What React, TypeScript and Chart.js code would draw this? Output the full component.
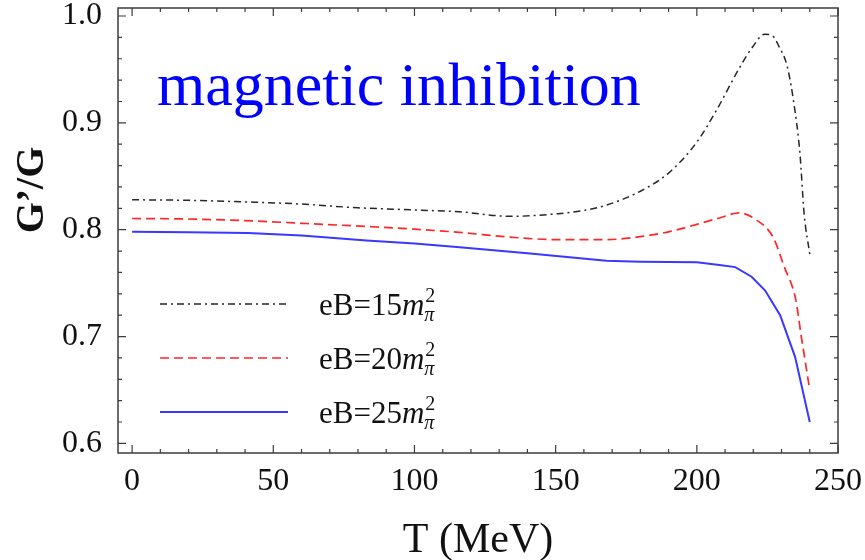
import { useEffect, useRef } from 'react';
import { Chart, registerables } from 'chart.js';

Chart.register(...registerables);

// Temperature grid (MeV) and G'/G for each field strength
const T15 = [0, 20, 40, 60, 80, 100, 116, 134, 151, 160, 168, 180, 190, 200, 207, 215, 220, 224, 227, 229, 232, 234.5, 236.5, 238, 240];
const G15 = [0.828, 0.8275, 0.826, 0.824, 0.8205, 0.8185, 0.8167, 0.8125, 0.815, 0.818, 0.823, 0.836, 0.853, 0.882, 0.912, 0.951, 0.972, 0.983, 0.981, 0.972, 0.953, 0.916, 0.872, 0.815, 0.777];

const T20 = [0, 20, 40, 60, 83, 100, 116, 134, 151, 168, 177, 190, 200, 208, 215, 220.6, 227, 231, 235, 237, 240];
const G20 = [0.8105, 0.81, 0.8085, 0.806, 0.803, 0.8005, 0.7975, 0.793, 0.7907, 0.7907, 0.7925, 0.798, 0.805, 0.811, 0.8157, 0.81, 0.793, 0.765, 0.735, 0.7, 0.65];

const T25 = [0, 20, 41, 60, 83, 100, 116, 140, 168, 180, 200, 208, 213.6, 219.4, 224.2, 229.5, 234.8, 240];
const G25 = [0.798, 0.7975, 0.797, 0.7945, 0.79, 0.787, 0.7835, 0.778, 0.771, 0.77, 0.7695, 0.767, 0.765, 0.756, 0.743, 0.72, 0.681, 0.62];

const SERIES_FIELDS = ['15', '20', '25'];

const X_TICKS = [0, 50, 100, 150, 200, 250];
const Y_TICKS = [0.6, 0.7, 0.8, 0.9, 1.0];
const X_MINOR_STEP = 10;
const Y_MINOR_STEP = 0.02;

const X_MIN = -5;
const X_MAX = 250;
const Y_MIN = 0.591;
const Y_MAX = 1.0075;

const SERIF = '"Liberation Serif", "Times New Roman", serif';

const toPoints = (xs: number[], ys: number[]) => xs.map((x, i) => ({ x, y: ys[i] }));

const decorations = {
  id: 'decorations',
  afterDraw(chart: any) {
    const { ctx, chartArea, scales } = chart;
    const { left, right, top, bottom } = chartArea;
    const xs = scales.x;
    const ys = scales.y;
    ctx.save();

    // frame
    ctx.strokeStyle = '#3c3c3c';
    ctx.lineWidth = 1.5;
    ctx.strokeRect(left, top, right - left, bottom - top);

    // inward tick marks on all four sides
    ctx.lineWidth = 1.2;
    ctx.beginPath();
    for (let v = 0; v <= X_MAX + 1e-9; v += X_MINOR_STEP) {
      const px = xs.getPixelForValue(v);
      const major = X_TICKS.some((t) => Math.abs(t - v) < 1e-6);
      const len = major ? 8 : 4;
      ctx.moveTo(px, bottom);
      ctx.lineTo(px, bottom - len);
      ctx.moveTo(px, top);
      ctx.lineTo(px, top + len);
    }
    for (let v = 0.6; v <= 1.0 + 1e-9; v += Y_MINOR_STEP) {
      const py = ys.getPixelForValue(v);
      const major = Y_TICKS.some((t) => Math.abs(t - v) < 1e-6);
      const len = major ? 8 : 4;
      ctx.moveTo(left, py);
      ctx.lineTo(left + len, py);
      ctx.moveTo(right, py);
      ctx.lineTo(right - len, py);
    }
    ctx.stroke();

    // annotation
    ctx.fillStyle = '#0000ff';
    ctx.font = `62px ${SERIF}`;
    ctx.textAlign = 'left';
    ctx.textBaseline = 'alphabetic';
    ctx.fillText('magnetic inhibition', 157, 105);

    // legend
    const rows = [304, 358, 412];
    chart.data.datasets.forEach((ds: any, i: number) => {
      const yy = rows[i];
      ctx.save();
      ctx.strokeStyle = ds.borderColor;
      ctx.lineWidth = ds.borderWidth;
      ctx.setLineDash(ds.borderDash || []);
      ctx.beginPath();
      ctx.moveTo(160, yy);
      ctx.lineTo(288, yy);
      ctx.stroke();
      ctx.restore();

      const base = yy + 11;
      ctx.fillStyle = '#111';
      ctx.font = `31px ${SERIF}`;
      const head = `eB=${SERIES_FIELDS[i]}`;
      ctx.fillText(head, 319, base);
      let cx = 319 + ctx.measureText(head).width;
      ctx.font = `italic 31px ${SERIF}`;
      ctx.fillText('m', cx, base);
      cx += ctx.measureText('m').width + 1;
      ctx.font = `20px ${SERIF}`;
      ctx.fillText('2', cx, base - 13);
      ctx.font = `italic 20px ${SERIF}`;
      ctx.fillText('π', cx - 1, base + 6);
    });

    // axis titles
    ctx.fillStyle = '#111';
    ctx.font = `42px ${SERIF}`;
    ctx.textAlign = 'center';
    ctx.fillText('T (MeV)', (left + right) / 2, 552);

    ctx.save();
    ctx.translate(43, 190);
    ctx.rotate(-Math.PI / 2);
    ctx.font = `bold 40px ${SERIF}`;
    ctx.fillText('G’/G', 0, 0);
    ctx.restore();

    ctx.restore();
  },
};

export default function App() {
  const ref = useRef<HTMLCanvasElement | null>(null);

  useEffect(() => {
    if (!ref.current) return;
    const chart = new Chart(ref.current, {
      type: 'line',
      data: {
        datasets: [
          {
            label: 'eB=15',
            data: toPoints(T15, G15),
            borderColor: '#262626',
            borderWidth: 1.5,
            borderDash: [7, 4, 2, 4],
            pointRadius: 0,
            fill: false,
            cubicInterpolationMode: 'monotone',
          },
          {
            label: 'eB=20',
            data: toPoints(T20, G20),
            borderColor: '#ff2626',
            borderWidth: 1.7,
            borderDash: [9, 5],
            pointRadius: 0,
            fill: false,
            cubicInterpolationMode: 'monotone',
          },
          {
            label: 'eB=25',
            data: toPoints(T25, G25),
            borderColor: '#3838ff',
            borderWidth: 2,
            pointRadius: 0,
            fill: false,
            tension: 0,
          },
        ],
      },
      options: {
        responsive: false,
        animation: false,
        devicePixelRatio: 1,
        layout: { padding: { left: 0, top: 8, right: 27, bottom: 0 } },
        plugins: { legend: { display: false }, tooltip: { enabled: false } },
        scales: {
          x: {
            type: 'linear',
            min: X_MIN,
            max: X_MAX,
            grid: { display: false },
            border: { display: false },
            afterBuildTicks: (s: any) => {
              s.ticks = X_TICKS.map((value) => ({ value }));
            },
            afterFit: (s: any) => {
              s.height = 107;
              s.paddingLeft = 0;
              s.paddingRight = 0;
            },
            ticks: {
              autoSkip: false,
              maxRotation: 0,
              padding: 1,
              color: '#111',
              font: { family: SERIF, size: 32 },
              callback: (v: any) => String(v),
            },
          },
          y: {
            type: 'linear',
            min: Y_MIN,
            max: Y_MAX,
            grid: { display: false },
            border: { display: false },
            afterBuildTicks: (s: any) => {
              s.ticks = Y_TICKS.map((value) => ({ value }));
            },
            afterFit: (s: any) => {
              s.width = 118;
              s.paddingTop = 0;
              s.paddingBottom = 0;
            },
            ticks: {
              autoSkip: false,
              padding: 8,
              color: '#111',
              font: { family: SERIF, size: 32 },
              callback: (v: any) => Number(v).toFixed(1),
            },
          },
        },
      },
      plugins: [decorations],
    });
    return () => chart.destroy();
  }, []);

  return (
    <div style={{ position: 'fixed', left: 0, top: 0, width: 865, height: 560, background: '#fff' }}>
      <canvas ref={ref} width={865} height={560} style={{ display: 'block' }} />
    </div>
  );
}
